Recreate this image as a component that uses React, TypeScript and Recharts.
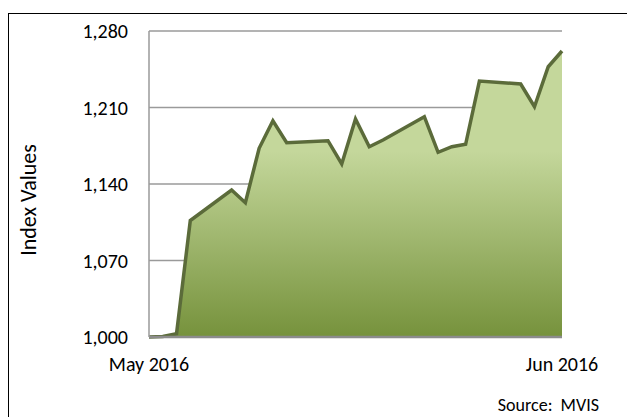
import React from "react";
import {
  AreaChart,
  Area,
  XAxis,
  YAxis,
  CartesianGrid,
} from "recharts";

// trading days, May 17 - Jun 16 2016
const dates = [
  "2016-05-17", "2016-05-18", "2016-05-19", "2016-05-20",
  "2016-05-23", "2016-05-24", "2016-05-25", "2016-05-26", "2016-05-27",
  "2016-05-30", "2016-05-31", "2016-06-01", "2016-06-02", "2016-06-03",
  "2016-06-06", "2016-06-07", "2016-06-08", "2016-06-09", "2016-06-10",
  "2016-06-13", "2016-06-14", "2016-06-15", "2016-06-16",
];

const indexValues = [
  1000, 1000.5, 1003, 1106.6,
  1134.5, 1122.9, 1172.7, 1197.9, 1177.8,
  1179.6, 1158.3, 1199.5, 1174.1, 1180.3,
  1201.6, 1169, 1174.1, 1176.3, 1234.2,
  1231.5, 1210.7, 1247.3, 1261.7,
];

const yTicks = [1000, 1070, 1140, 1210, 1280];

const toTime = (d: string) => new Date(d + "T00:00:00Z").getTime();

const data = dates.map((d, i) => ({ t: toTime(d), v: indexValues[i] }));
const xTicks = [data[0].t, data[data.length - 1].t];

const FONT = "Carlito, Lato, 'Open Sans', sans-serif";

const fmtMonth = (t: number) =>
  new Date(t).toLocaleDateString("en-US", {
    month: "short",
    year: "numeric",
    timeZone: "UTC",
  });

const YLabel = () => (
  <text
    x={28}
    y={200}
    transform="rotate(-90, 28, 200)"
    textAnchor="middle"
    dominantBaseline="central"
    fontFamily={FONT}
    fontSize={22}
    fill="#000"
  >
    Index Values
  </text>
);

export default function App() {
  return (
    <div
      style={{
        position: "fixed",
        left: 0,
        top: 0,
        width: 627,
        height: 417,
        overflow: "hidden",
        background: "#fff",
      }}
    >
      <div
        style={{
          position: "absolute",
          left: 8,
          top: 13,
          width: 650,
          height: 430,
          border: "1px solid #000",
        }}
      />
      <div style={{ position: "absolute", left: 0, top: 0 }}>
        <AreaChart
          width={627}
          height={417}
          data={data}
          margin={{ top: 31, right: 65, bottom: 50, left: 89 }}
        >
          <defs>
            <linearGradient id="fillGreen" x1="0" y1="0" x2="0" y2="1">
              <stop offset="0%" stopColor="#c4d79b" />
              <stop offset="35%" stopColor="#c4d79b" />
              <stop offset="100%" stopColor="#76923c" />
            </linearGradient>
          </defs>
          <CartesianGrid vertical={false} stroke="#9a9a9a" strokeWidth={1.5} />
          <XAxis
            dataKey="t"
            type="number"
            scale="time"
            domain={["dataMin", "dataMax"]}
            ticks={xTicks}
            tickFormatter={fmtMonth}
            height={30}
            tickLine={false}
            tickSize={6}
            tickMargin={14}
            axisLine={{ stroke: "#8c8c8c", strokeWidth: 2.5 }}
            tick={{ fill: "#000", fontSize: 20, fontFamily: FONT }}
          />
          <YAxis
            type="number"
            domain={[1000, 1280]}
            ticks={yTicks}
            width={60}
            tickLine={false}
            tickSize={6}
            tickMargin={15}
            tickFormatter={(v: number) => v.toLocaleString("en-US")}
            axisLine={{ stroke: "#9a9a9a", strokeWidth: 1.5 }}
            tick={{ fill: "#000", fontSize: 20, fontFamily: FONT }}
            label={YLabel}
          />
          <Area
            type="linear"
            dataKey="v"
            stroke="#5b6b3a"
            strokeWidth={3.5}
            fill="url(#fillGreen)"
            fillOpacity={1}
            isAnimationActive={false}
            dot={false}
            activeDot={false}
          />
        </AreaChart>
      </div>
      <div
        style={{
          position: "absolute",
          right: 28,
          top: 394,
          fontFamily: FONT,
          fontSize: 18,
          whiteSpace: "pre",
          color: "#000",
          lineHeight: "22px",
        }}
      >
        {"Source:  MVIS"}
      </div>
    </div>
  );
}
